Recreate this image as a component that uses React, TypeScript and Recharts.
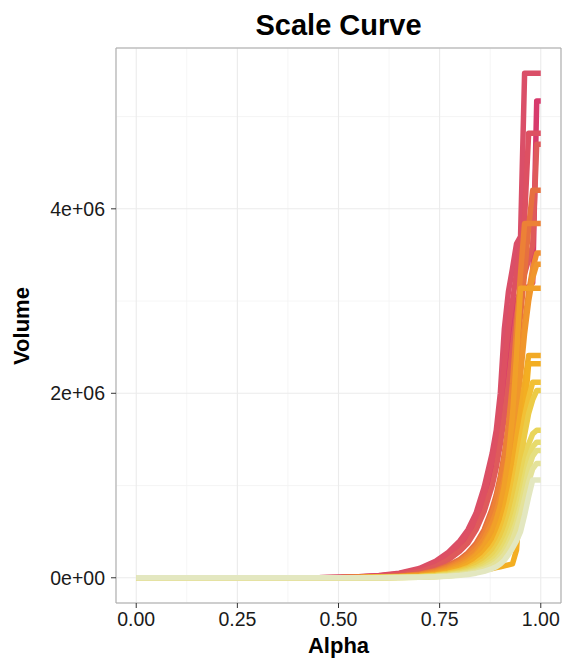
import React from 'react';
import { ComposedChart, Line, XAxis, YAxis, CartesianGrid, ReferenceArea } from 'recharts';

// Alpha grid (x values)
const ALPHA = [0, 0.45, 0.5, 0.55, 0.6, 0.65, 0.7, 0.74, 0.77, 0.8, 0.82, 0.84, 0.86, 0.88, 0.89, 0.9, 0.91, 0.92, 0.93, 0.94, 0.95, 0.96, 0.97, 0.98, 0.99, 1.0];

// Volume values in millions (1e+06)
const R1 = [0, 0, 0.005, 0.012, 0.025, 0.05, 0.1, 0.18, 0.27, 0.4, 0.52, 0.7, 0.98, 1.35, 1.6, 2.0, 2.7, 3.1, 3.35, 3.62, 3.7, 5.47, 5.47, 5.47, 5.47, 5.47];
const R2 = [0, 0, 0.003, 0.008, 0.018, 0.038, 0.08, 0.15, 0.23, 0.35, 0.46, 0.62, 0.86, 1.2, 1.45, 1.75, 2.1, 2.5, 2.8, 3.0, 3.1, 3.15, 3.15, 3.2, 5.17, 5.17];
const R3 = [0, 0, 0.004, 0.01, 0.02, 0.045, 0.09, 0.16, 0.25, 0.37, 0.48, 0.65, 0.9, 1.28, 1.5, 1.85, 2.3, 2.7, 3.0, 3.3, 3.6, 3.9, 4.82, 4.82, 4.82, 4.82];
const R4 = [0, 0, 0.002, 0.006, 0.014, 0.03, 0.065, 0.12, 0.19, 0.29, 0.38, 0.52, 0.72, 1.0, 1.2, 1.45, 1.75, 2.1, 2.5, 2.85, 3.1, 3.3, 3.45, 3.6, 4.7, 4.7];
const O1 = [0, 0, 0.001, 0.003, 0.008, 0.018, 0.04, 0.08, 0.13, 0.2, 0.27, 0.37, 0.52, 0.75, 0.9, 1.1, 1.35, 1.65, 2.0, 2.4, 2.85, 3.3, 3.8, 4.2, 4.2, 4.2];
const O2 = [0, 0, 0.001, 0.003, 0.007, 0.016, 0.036, 0.07, 0.115, 0.18, 0.25, 0.34, 0.48, 0.7, 0.85, 1.05, 1.3, 1.65, 2.1, 2.7, 3.3, 3.84, 3.84, 3.84, 3.84, 3.84];
const O3 = [0, 0, 0.001, 0.002, 0.006, 0.013, 0.03, 0.06, 0.1, 0.16, 0.22, 0.3, 0.42, 0.6, 0.72, 0.88, 1.08, 1.32, 1.6, 1.95, 2.35, 2.75, 3.1, 3.35, 3.52, 3.52];
const O4 = [0, 0, 0.001, 0.002, 0.005, 0.011, 0.026, 0.052, 0.088, 0.14, 0.19, 0.26, 0.37, 0.53, 0.64, 0.78, 0.96, 1.18, 1.45, 1.8, 2.2, 2.65, 3.0, 3.25, 3.4, 3.4];
const O5 = [0, 0, 0.001, 0.002, 0.005, 0.01, 0.022, 0.045, 0.075, 0.12, 0.17, 0.24, 0.34, 0.5, 0.62, 0.78, 1.0, 1.3, 1.75, 2.4, 3.14, 3.14, 3.14, 3.14, 3.14, 3.14];
const O6 = [0, 0, 0, 0.001, 0.004, 0.008, 0.018, 0.038, 0.064, 0.1, 0.14, 0.2, 0.28, 0.4, 0.48, 0.6, 0.75, 0.95, 1.2, 1.5, 1.8, 2.1, 2.41, 2.41, 2.41, 2.41];
const O7 = [0, 0, 0, 0.001, 0.003, 0.006, 0.012, 0.022, 0.032, 0.045, 0.055, 0.07, 0.085, 0.1, 0.11, 0.12, 0.13, 0.14, 0.15, 0.3, 0.9, 1.8, 2.32, 2.32, 2.32, 2.32];
const Y1 = [0, 0, 0, 0.001, 0.003, 0.007, 0.015, 0.03, 0.05, 0.08, 0.11, 0.16, 0.23, 0.33, 0.4, 0.5, 0.62, 0.78, 0.98, 1.22, 1.5, 1.75, 1.95, 2.12, 2.12, 2.12];
const Y2 = [0, 0, 0, 0.001, 0.002, 0.006, 0.013, 0.026, 0.043, 0.07, 0.095, 0.135, 0.19, 0.28, 0.34, 0.42, 0.52, 0.66, 0.83, 1.05, 1.3, 1.55, 1.78, 1.93, 2.03, 2.03];
const Y3 = [0, 0, 0, 0.001, 0.002, 0.005, 0.011, 0.022, 0.036, 0.058, 0.08, 0.11, 0.155, 0.23, 0.28, 0.35, 0.43, 0.54, 0.68, 0.86, 1.06, 1.28, 1.45, 1.56, 1.6, 1.6];
const Y4 = [0, 0, 0, 0.001, 0.002, 0.004, 0.009, 0.018, 0.03, 0.048, 0.066, 0.092, 0.13, 0.19, 0.23, 0.29, 0.36, 0.45, 0.57, 0.72, 0.9, 1.1, 1.3, 1.42, 1.47, 1.47];
const Y5 = [0, 0, 0, 0, 0.001, 0.003, 0.007, 0.014, 0.024, 0.04, 0.055, 0.077, 0.108, 0.16, 0.19, 0.24, 0.3, 0.38, 0.48, 0.61, 0.78, 0.98, 1.18, 1.32, 1.38, 1.38];
const Y6 = [0, 0, 0, 0, 0.001, 0.003, 0.006, 0.012, 0.02, 0.033, 0.046, 0.064, 0.09, 0.13, 0.16, 0.2, 0.25, 0.32, 0.41, 0.53, 0.68, 0.86, 1.04, 1.18, 1.24, 1.24];
const P1 = [0, 0, 0, 0, 0.001, 0.002, 0.005, 0.01, 0.016, 0.026, 0.036, 0.05, 0.07, 0.1, 0.12, 0.15, 0.19, 0.25, 0.32, 0.4, 0.5, 0.68, 0.88, 1.06, 1.06, 1.06];

const SERIES = [R1, R2, R3, R4, O1, O2, O3, O4, O5, O6, O7, Y1, Y2, Y3, Y4, Y5, Y6, P1];
const COLORS = [
  '#da4f68', '#d73a6c', '#dd5062', '#df5a5b',
  '#e6703f', '#ec8136', '#ef8c30', '#f0962c', '#f1a028', '#f2aa25', '#f3ae22',
  '#f2c035', '#eccb46', '#e9d55a', '#e7db6c', '#e5df82', '#e4e29a', '#e3e7c0',
];

const X_TICKS = [0, 0.25, 0.5, 0.75, 1];
const X_MINOR = [0.125, 0.375, 0.625, 0.875];
const Y_TICKS = [0, 2, 4];
const Y_MINOR = [1, 3, 5];
const X_DOMAIN = [-0.05, 1.05];
const Y_DOMAIN = [-0.2735, 5.7435];

const data = ALPHA.map((a, i) => {
  const row: Record<string, number> = { alpha: a };
  SERIES.forEach((s, k) => {
    row['s' + k] = s[i];
  });
  return row;
});

const FONT = '"Liberation Sans", Arial, Helvetica, sans-serif';

export default function App() {
  return (
    <div style={{ position: 'absolute', left: 0, top: 0, width: 562, height: 661, background: '#fff', fontFamily: FONT }}>
      <div style={{ position: 'absolute', left: 116, width: 445, top: 11, height: 29, lineHeight: '29px', fontSize: 29, fontWeight: 'bold', textAlign: 'center', color: '#000' }}>
        Scale Curve
      </div>
      <div style={{ position: 'absolute', left: 116, width: 445, top: 635, height: 22, lineHeight: '22px', fontSize: 22, fontWeight: 'bold', textAlign: 'center', color: '#000' }}>
        Alpha
      </div>
      <div style={{ position: 'absolute', left: -78, width: 200, top: 315, height: 22, lineHeight: '22px', fontSize: 22, fontWeight: 'bold', textAlign: 'center', color: '#000', transform: 'rotate(-90deg)' }}>
        Volume
      </div>
      <div style={{ position: 'absolute', left: 0, top: 0 }}>
        <ComposedChart width={562} height={661} data={data} margin={{ top: 48, right: 1, bottom: 0, left: 0 }}>
          <XAxis xAxisId="minor" dataKey="alpha" type="number" domain={X_DOMAIN} ticks={X_MINOR} allowDataOverflow hide />
          <YAxis yAxisId="minor" type="number" domain={Y_DOMAIN} ticks={Y_MINOR} allowDataOverflow hide />
          <CartesianGrid xAxisId="minor" yAxisId="minor" stroke="#f3f3f3" strokeWidth={0.8} />
          <XAxis
            dataKey="alpha"
            type="number"
            domain={X_DOMAIN}
            ticks={X_TICKS}
            allowDataOverflow
            height={58}
            axisLine={false}
            tickSize={5}
            tickMargin={4}
            tickLine={{ stroke: '#333' }}
            tick={{ fill: '#1a1a1a', fontSize: 19.5, fontFamily: FONT }}
            tickFormatter={(v: number) => v.toFixed(2)}
          />
          <YAxis
            type="number"
            domain={Y_DOMAIN}
            ticks={Y_TICKS}
            allowDataOverflow
            width={116}
            axisLine={false}
            tickSize={5}
            tickMargin={6}
            tickLine={{ stroke: '#333' }}
            tick={{ fill: '#1a1a1a', fontSize: 19.5, fontFamily: FONT }}
            tickFormatter={(v: number) => (v === 0 ? '0e+00' : `${v}e+06`)}
          />
          <CartesianGrid stroke="#ebebeb" strokeWidth={1.1} />
          {SERIES.map((_, k) => (
            <Line
              key={k}
              type="linear"
              dataKey={'s' + k}
              stroke={COLORS[k]}
              strokeWidth={5.5}
              strokeLinejoin="round"
              dot={false}
              activeDot={false}
              isAnimationActive={false}
            />
          ))}
          <ReferenceArea x1={X_DOMAIN[0]} x2={X_DOMAIN[1]} y1={Y_DOMAIN[0]} y2={Y_DOMAIN[1]} fill="none" fillOpacity={0} stroke="#a9a9a9" strokeWidth={1} />
        </ComposedChart>
      </div>
    </div>
  );
}
